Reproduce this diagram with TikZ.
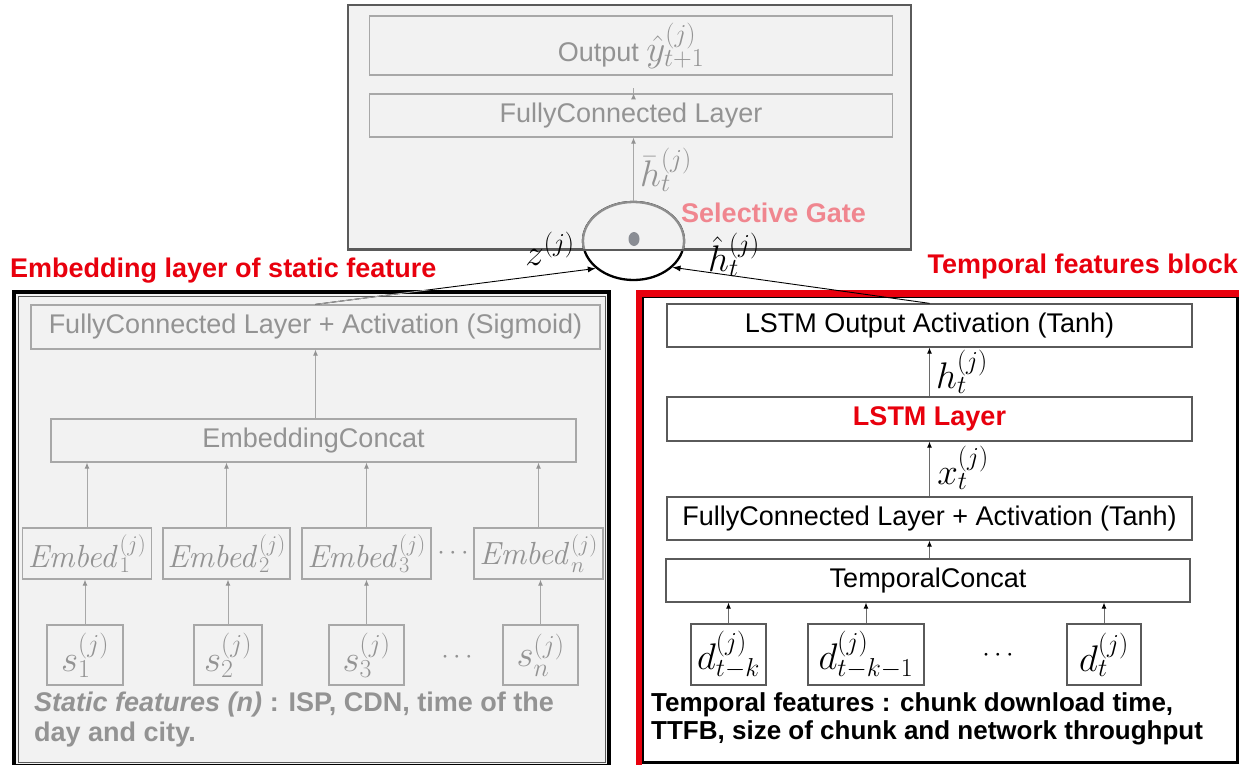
\documentclass[tikz,border=0pt]{standalone}
\usepackage{fix-cm}
\usepackage[no-math]{fontspec}
\setmainfont{Liberation Sans}
\usetikzlibrary{arrows.meta,shapes.geometric}

\definecolor{panelfill}{HTML}{F2F2F2}
\definecolor{boxgray}{HTML}{A8A8A8}
\definecolor{txtgray}{HTML}{939393}
\definecolor{headframe}{HTML}{5A5A5A}
\definecolor{darkbox}{HTML}{5A5A5A}
\definecolor{redlab}{HTML}{E8000D}
\definecolor{pinklab}{HTML}{F0868F}
\definecolor{gategray}{HTML}{8E8E8E}
\definecolor{dotgray}{HTML}{8A8D94}
\definecolor{wire}{HTML}{6A6A6A}

\newcommand\sizeA{\fontsize{27}{30}\selectfont}
\newcommand\sizeB{\fontsize{26}{28}\selectfont}
\newcommand\sizeM{\fontsize{37}{40}\selectfont}
\newcommand\sizeE{\fontsize{32}{34}\selectfont}

\tikzset{
  graybox/.style={draw=boxgray, line width=1.3pt, text=txtgray, inner sep=0pt, font=\sizeA},
  darkbx/.style={draw=darkbox, line width=1.3pt, fill=white, text=black, inner sep=0pt, font=\sizeA},
  garrow/.style={draw=boxgray, line width=0.9pt, -{Latex[length=6pt,width=5pt,color=txtgray]}},
  darrow/.style={draw=wire, line width=0.9pt, -{Latex[length=6pt,width=5pt,color=black]}},
  gatewire/.style={line width=0.9pt, -{Latex[length=8pt,width=6pt]}},
  title/.style={text=redlab, font=\bfseries\sizeA, inner sep=0pt},
}

\begin{document}
\begin{tikzpicture}[x=1pt,y=-1pt]
\useasboundingbox (0,0) rectangle (1241,764);

% ---------------- output head ----------------
\node[draw=headframe, line width=2pt, fill=panelfill, minimum width=563, minimum height=244, inner sep=0pt] (head) at (629.5,127) {};
\node[graybox, minimum width=523, minimum height=59] (out) at (631,45.5) {Output {\sizeM$\hat{y}_{t+1}^{(j)}$}};
\node[graybox, minimum width=523, minimum height=43] (fcO) at (631,115.5) {FullyConnected Layer};

% selective gate
\node[draw=black, line width=2.3pt, ellipse, minimum width=101, minimum height=78, inner sep=0pt] (gate) at (633.5,241) {};
\begin{scope}
  \clip (head.south west) rectangle (head.north east);
  \node[draw=gategray, fill=panelfill, line width=2.3pt, ellipse, minimum width=101, minimum height=78, inner sep=0pt] (gatetop) at (gate.center) {};
  \draw[draw=headframe, line width=2pt] (head.south west) -- (head.south east);
\end{scope}
\node[ellipse, fill=dotgray, minimum width=11, minimum height=14, inner sep=0pt] (dot) at (634,239) {};
\node[anchor=west, text=pinklab, font=\bfseries\sizeA, inner sep=0pt] (sg) at (681,213) {Selective Gate};

\draw[garrow] (gate.north) -- (gate.north |- fcO.south);
\node[text=txtgray, font=\sizeM, inner sep=0pt] (hbar) at (666,170) {$\bar{h}_t^{(j)}$};
\draw[garrow] (fcO.north -| gate.north) -- (fcO.north -| gate.north |- out.south);

% ---------------- static feature panel ----------------
\node[title, anchor=west] (ltitle) at (10,271) {Embedding layer of static feature};
\node[fill=panelfill, draw=black, line width=3.5pt, minimum width=595, minimum height=474, inner sep=0pt] (lpanel) at (311.5,529) {};
\draw[draw=headframe, line width=0.8pt] (18,296) rectangle (605,762);

\node[graybox, minimum width=569, minimum height=44] (fcS) at (315.5,327) {FullyConnected Layer + Activation (Sigmoid)};
\node[graybox, minimum width=525, minimum height=43] (cat) at (313.5,440.5) {EmbeddingConcat};

\node[graybox, font=\sizeE, minimum width=129.5, minimum height=51] (emb1) at (87,553.5) {$\mathit{Embed}_1^{(j)}$};
\node[graybox, font=\sizeE, minimum width=127, minimum height=51] (emb2) at (226.5,553.5) {$\mathit{Embed}_2^{(j)}$};
\node[graybox, font=\sizeE, minimum width=129, minimum height=51] (emb3) at (366.5,553.5) {$\mathit{Embed}_3^{(j)}$};
\node[graybox, font=\sizeE, minimum width=129, minimum height=51] (embn) at (538.5,553.5) {$\mathit{Embed}_n^{(j)}$};
\node[text=txtgray, font=\sizeA, inner sep=0pt] (edots) at (453,553) {$\cdots$};

\node[graybox, font=\sizeM, minimum width=76, minimum height=60] (s1) at (85,655) {$s_1^{(j)}$};
\node[graybox, font=\sizeM, minimum width=68, minimum height=60] (s2) at (228,655) {$s_2^{(j)}$};
\node[graybox, font=\sizeM, minimum width=75, minimum height=60] (s3) at (366.5,655) {$s_3^{(j)}$};
\node[graybox, font=\sizeM, minimum width=75, minimum height=60] (sn) at (540.5,655) {$s_n^{(j)}$};
\node[text=txtgray, font=\sizeA, inner sep=0pt] (sdots) at (457,657) {$\cdots$};

\foreach \e in {emb1,emb2,emb3,embn}
  \draw[garrow] (\e.north) -- (\e.north |- cat.south);
\foreach \s/\e in {s1/emb1,s2/emb2,s3/emb3,sn/embn}
  \draw[garrow] (\s.north) -- (\s.north |- \e.south);
\draw[garrow] (cat.north -| fcS.south) -- (fcS.south);

\node[anchor=west, align=left, text=txtgray, font=\bfseries\sizeA, inner sep=0pt] (stat) at (34,720)
  {\textit{Static features (n)} : ISP, CDN, time of the\\day and city.};

% ---------------- temporal feature panel ----------------
\node[title, anchor=east] (rtitle) at (1238,267) {Temporal features block};
\node[fill=white, draw=black, line width=2.5pt, minimum width=595, minimum height=466, inner sep=0pt] (rpanel) at (940,529.5) {};
\draw[draw=redlab, line width=6.5pt] (639,768) -- (639,293.5) -- (1239,293.5);

\node[darkbx, minimum width=525, minimum height=43] (lout) at (929.5,325.5) {LSTM Output Activation (Tanh)};
\node[darkbx, minimum width=525, minimum height=44, text=redlab, font=\bfseries\sizeA] (lstm) at (929.5,419) {LSTM Layer};
\node[darkbx, minimum width=525, minimum height=43] (fcT) at (929.5,518.5) {FullyConnected Layer + Activation (Tanh)};
\node[darkbx, minimum width=524, minimum height=43] (tcat) at (928,580.5) {TemporalConcat};

\node[darkbx, font=\sizeM, minimum width=75, minimum height=61] (d1) at (728.5,654.5) {$d_{t-k}^{(j)}$};
\node[darkbx, font=\sizeM, minimum width=116, minimum height=61] (d2) at (866,654.5) {$d_{t-k-1}^{(j)}$};
\node[darkbx, font=\sizeM, minimum width=74, minimum height=61] (dt) at (1104,654.5) {$d_{t}^{(j)}$};
\node[font=\sizeA, inner sep=0pt] (ddots) at (998,655) {$\cdots$};

\foreach \d in {d1,d2,dt}
  \draw[darrow] (\d.north) -- (\d.north |- tcat.south);
\draw[darrow] (tcat.north -| fcT.south) -- (fcT.south);
\draw[darrow] (fcT.north) -- (lstm.south);
\draw[darrow] (lstm.north) -- (lout.south);
\node[font=\sizeM, inner sep=0pt] (xlab) at (963,468) {$x_t^{(j)}$};
\node[font=\sizeM, inner sep=0pt] (hlab) at (962,372) {$h_t^{(j)}$};

\node[anchor=west, align=left, font=\bfseries\sizeB, inner sep=0pt] (temp) at (651,719)
  {Temporal features : chunk download time,\\TTFB, size of chunk and network throughput};

% ---------------- into the gate ----------------
\draw[gatewire] (fcS.north) -- (gate.216);
\begin{scope}
  \clip (lpanel.south west) rectangle (lpanel.north east);
  \draw[draw=boxgray, line width=0.9pt] (fcS.north) -- (gate.216);
\end{scope}
\draw[gatewire] (lout.north) -- (gate.326);

\node[font=\sizeM, inner sep=0pt] (zlab) at (550,249) {$z^{(j)}$};
\node[font=\sizeM, inner sep=0pt] (hhat) at (734,255) {$\hat{h}_t^{(j)}$};
\end{tikzpicture}
\end{document}
